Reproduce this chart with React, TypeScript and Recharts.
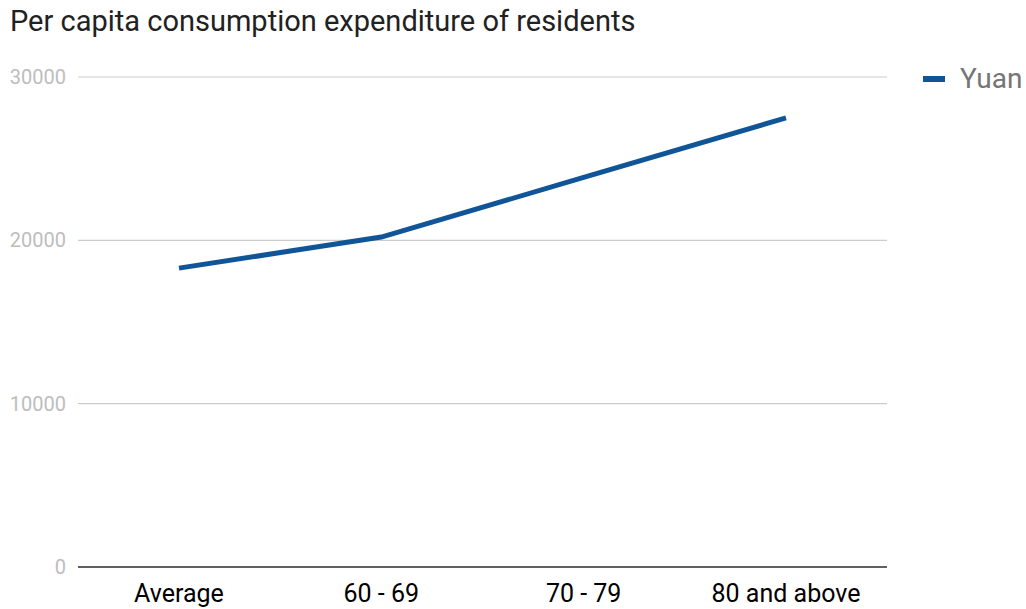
import { CartesianGrid, Line, LineChart, XAxis, YAxis } from 'recharts'

const categories = ['Average', '60 - 69', '70 - 79', '80 and above']
const yuanValues = [18300, 20200, 23850, 27500]
const yTicks = [0, 10000, 20000, 30000]

const data = categories.map((name, i) => ({ name, Yuan: yuanValues[i] }))

const LINE_COLOR = '#0f5597'

export default function App() {
  return (
    <div style={{ position: 'absolute', left: 0, top: 0, width: 1026, height: 609, background: '#fff' }}>
      <div
        style={{
          position: 'absolute',
          left: 10,
          top: 4,
          fontFamily: 'Roboto',
          fontSize: 29,
          color: '#212121',
          whiteSpace: 'nowrap',
        }}
      >
        Per capita consumption expenditure of residents
      </div>
      {/* legend drawn outside the chart so it doesn't shrink the plot */}
      <div
        style={{
          position: 'absolute',
          left: 923,
          top: 62,
          display: 'flex',
          alignItems: 'center',
          fontFamily: 'Roboto',
          fontSize: 28,
          color: '#757575',
        }}
      >
        <span style={{ display: 'inline-block', width: 22, height: 6, background: LINE_COLOR, marginRight: 15 }} />
        <span>Yuan</span>
      </div>
      <LineChart width={1026} height={609} data={data} margin={{ top: 77, right: 139, bottom: 0, left: 0 }}>
        <CartesianGrid horizontal vertical={false} stroke='#cccccc' strokeWidth={1.2} />
        <XAxis
          dataKey='name'
          height={42}
          padding={{ left: 101, right: 101 }}
          axisLine={{ stroke: '#333333', strokeWidth: 1.5 }}
          tickLine={false}
          tickSize={0}
          tickMargin={17}
          tick={{ fontFamily: 'Roboto', fontSize: 25, fill: '#000000' }}
        />
        <YAxis
          width={78}
          domain={[0, 30000]}
          ticks={yTicks}
          axisLine={false}
          tickLine={false}
          tickSize={0}
          tickMargin={12}
          tick={{ fontFamily: 'Roboto', fontSize: 20, fill: '#bdbdbd' }}
        />
        <Line
          type='linear'
          dataKey='Yuan'
          stroke={LINE_COLOR}
          strokeWidth={5}
          dot={false}
          activeDot={false}
          isAnimationActive={false}
        />
      </LineChart>
    </div>
  )
}
